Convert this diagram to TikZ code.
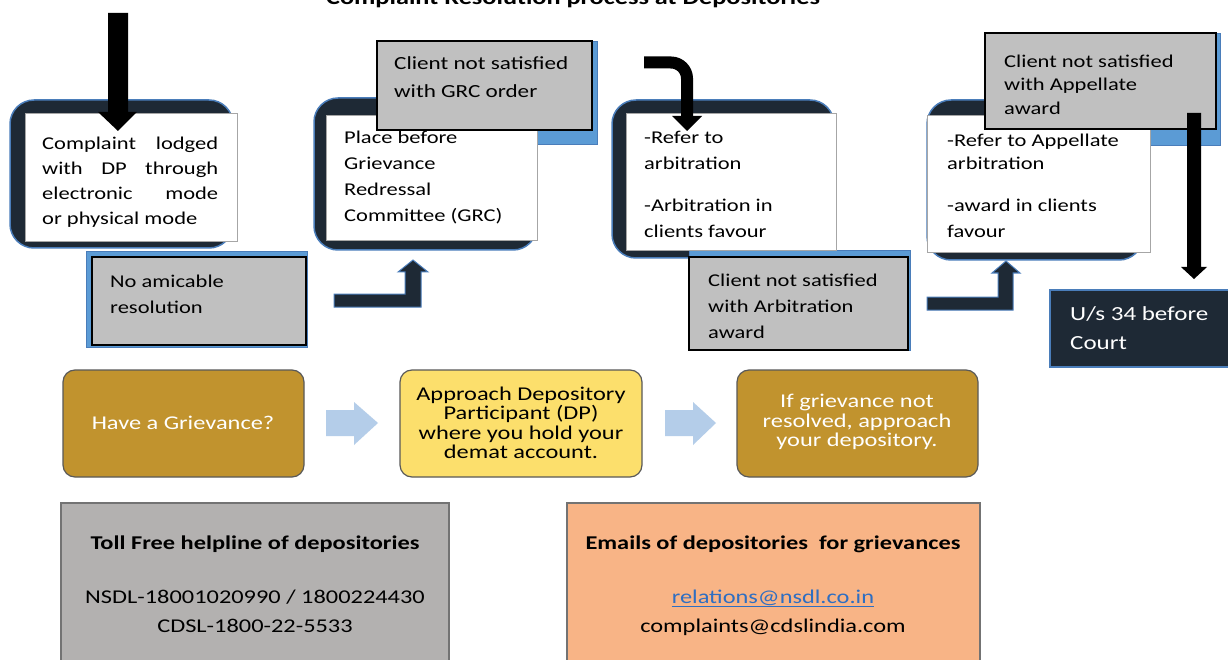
\documentclass[tikz,border=0pt]{standalone}
\usepackage{fontspec}
\setmainfont{Carlito}[FakeStretch=1.25]
\usepackage{graphicx}
\definecolor{navy}{HTML}{1E2935}
\definecolor{blueedge}{HTML}{4A7DBA}
\definecolor{strip}{HTML}{5B9BD5}
\definecolor{boxgray}{HTML}{C0C0C0}
\definecolor{gold}{HTML}{C1932E}
\definecolor{lyellow}{HTML}{FCDF6C}
\definecolor{lightarrow}{HTML}{B4CDE9}
\definecolor{botgray}{HTML}{B3B1B0}
\definecolor{lorange}{HTML}{F8B486}
\definecolor{linkblue}{HTML}{2E6EC2}
\begin{document}
\begin{tikzpicture}[x=1pt,y=-1pt,
  darkshape/.style={fill=navy,draw=blueedge,line width=1.5pt,rounded corners=24pt},
  bluestrip/.style={fill=strip,draw=blueedge,line width=0.8pt},
  whitebox/.style={fill=white,draw=gray!70,line width=0.8pt},
  graybox/.style={fill=boxgray,draw=black,line width=1.5pt},
  blackarrow/.style={fill=black},
  navyarrow/.style={fill=navy,draw=blueedge,line width=1pt},
  lightarr/.style={fill=lightarrow},
  bottombox/.style={draw=black!65,line width=1.2pt,rounded corners=12pt},
  infobox/.style={draw=black!55,line width=1.2pt},
  txt/.style={anchor=north west,inner sep=0pt,align=left,font=\fontsize{18}{26}\selectfont},
  btxt/.style={anchor=center,inner sep=0pt,align=center,font=\fontsize{19.5}{19.5}\selectfont},
  itxt/.style={anchor=base,inner sep=0pt,font=\fontsize{19.5}{22}\selectfont}
]
\useasboundingbox (0,0) rectangle (1228,660);
\clip (0,0) rectangle (1228,660);
\fill[white] (0,0) rectangle (1228,660);

% title
\node[anchor=base,inner sep=0pt,font=\bfseries\fontsize{21}{24}\selectfont] (title) at (573,5) {Complaint Resolution process at Depositories};

% dark rounded shapes
\draw[darkshape] (10,100) rectangle (233,248);
\draw[darkshape] (314,98) rectangle (537,250);
\draw[darkshape] (612,100) rectangle (834,258);
\draw[darkshape] (927,100) rectangle (1143,260);

% blue strips
\draw[bluestrip] (86,251) rectangle (307,347);
\draw[bluestrip] (380,41) rectangle (597,144);
\draw[bluestrip] (689,250) rectangle (910,350);
\draw[bluestrip] (985,33) rectangle (1220,145);

% white boxes
\draw[whitebox] (25,113) rectangle (237,241);
\draw[whitebox] (326,115) rectangle (537,240);
\draw[whitebox] (626,113) rectangle (836,250);
\draw[whitebox] (927,115) rectangle (1150,252);

% gray boxes
\draw[graybox] (92,257) rectangle (306,345);
\draw[graybox] (377,41) rectangle (592,130);
\draw[graybox] (689,257) rectangle (908,350);
\draw[graybox] (985,33) rectangle (1216,129);

% court box
\draw[fill=navy,draw=blueedge,line width=1.5pt] (1050,290) rectangle (1240,367);

% black arrows
\fill[blackarrow] (108,13) -- (128,13) -- (128,112) -- (137,112) -- (118,131) -- (98,112) -- (108,112) -- cycle;
\draw[line width=12pt,rounded corners=16pt] (644,62.5) -| (687,118);
\fill[blackarrow] (672,116) -- (702,116) -- (687,131) -- cycle;
\fill[blackarrow] (1187,113) -- (1201,113) -- (1201,267) -- (1207,267) -- (1194,279) -- (1181,267) -- (1187,267) -- cycle;

% navy bent arrows
\draw[navyarrow] (334,294) -- (405,294) -- (405,272) -- (398,272) -- (413,260) -- (428,272) -- (421,272) -- (421,307) -- (334,307) -- cycle;
\draw[navyarrow] (927,297) -- (998,297) -- (998,273) -- (992,273) -- (1006,261) -- (1020,273) -- (1013,273) -- (1013,310) -- (927,310) -- cycle;

% texts top
\node[txt] (t1) at (42,135) {\rule{0pt}{14pt}\makebox[176pt][s]{Complaint lodged}\\[-1pt]\makebox[176pt][s]{with DP through}\\[-1pt]\makebox[176pt][s]{electronic mode}\\[-1pt]or physical mode};
\node[txt] (t2) at (110,273) {\rule{0pt}{14pt}No amicable\\resolution};
\node[txt] (t3) at (344,129) {\rule{0pt}{14pt}Place before\\Grievance\\Redressal\\Committee (GRC)};
\node[txt,font=\fontsize{18.5}{26}\selectfont] (t4) at (394,55) {\rule{0pt}{14pt}Client not satisfied\\[2pt]with GRC order};
\node[txt] (t5) at (644,129) {\rule{0pt}{14pt}-Refer to\\arbitration\\[16pt]-Arbitration in\\clients favour};
\node[txt] (t6) at (708,272) {\rule{0pt}{14pt}Client not satisfied\\with Arbitration\\award};
\node[txt] (t7) at (1004,53) {\rule{0pt}{14pt}Client not satisfied\\[-2.5pt]with Appellate\\[-2.5pt]award};
\node[txt] (t8) at (947,132) {\rule{0pt}{14pt}-Refer to Appellate\\[-3pt]arbitration\\[16pt]-award in clients\\favour};
\node[txt,text=white,font=\fontsize{20}{29}\selectfont] (t9) at (1070,305) {\rule{0pt}{15pt}U/s 34 before\\Court};

% bottom flow
\draw[bottombox,fill=gold] (63,370) rectangle (304,477);
\draw[bottombox,fill=lyellow] (400,370) rectangle (642,477);
\draw[bottombox,fill=gold] (737,370) rectangle (978,477);
\fill[lightarr] (326,410) -- (354,410) -- (354,402) -- (378,423) -- (354,445) -- (354,436) -- (326,436) -- cycle;
\fill[lightarr] (665,410) -- (693,410) -- (693,402) -- (716,423) -- (693,445) -- (693,436) -- (665,436) -- cycle;
\node[btxt,text=white] (b1) at (183,423) {Have a Grievance?};
\node[btxt] (b2) at (521,423) {Approach Depository\\Participant (DP)\\where you hold your\\demat account.};
\node[btxt,text=white] (b3) at (857,422) {If grievance not\\resolved, approach\\your depository.};

% info boxes
\draw[infobox,fill=botgray] (61,503) rectangle (449,680);
\draw[infobox,fill=lorange] (567,503) rectangle (980,680);
\node[itxt,font=\bfseries\fontsize{19.5}{22}\selectfont] (h1) at (255,549) {Toll Free helpline of depositories};
\node[itxt] (n1) at (255,603) {NSDL-18001020990 / 1800224430};
\node[itxt] (n2) at (255,632) {CDSL-1800-22-5533};
\node[itxt,font=\bfseries\fontsize{19.5}{22}\selectfont] (h2) at (773,549) {Emails of depositories\ \ for grievances};
\node[itxt,text=linkblue] (e1) at (773,603) {\underline{relations@nsdl.co.in}};
\node[itxt] (e2) at (773,632) {complaints@cdslindia.com};
\end{tikzpicture}
\end{document}
